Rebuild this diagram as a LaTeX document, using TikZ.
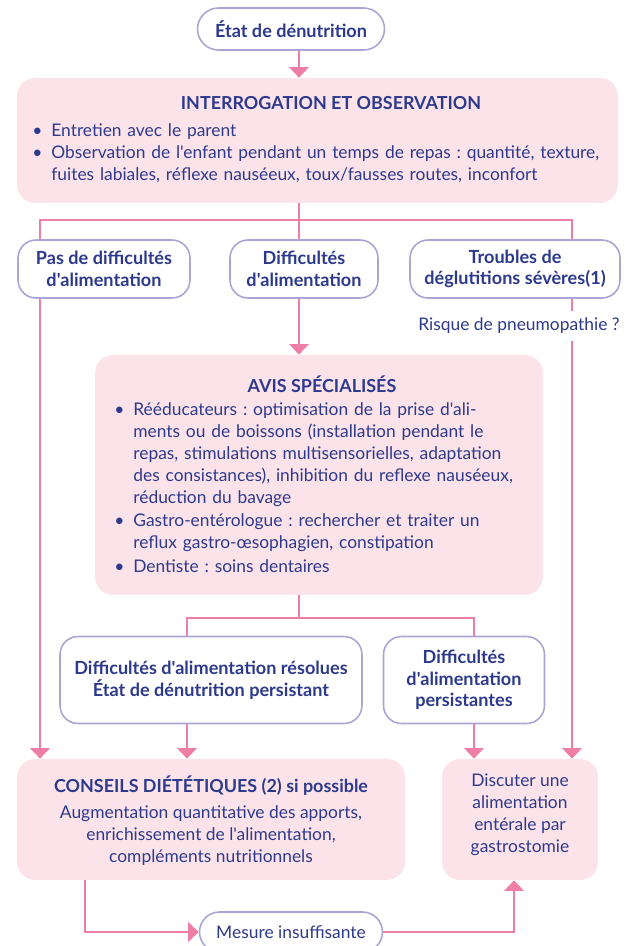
\documentclass[tikz,border=0pt]{standalone}
\usepackage{fontspec}
\setmainfont{Lato}[Ligatures=TeXOff]
\usepackage{enumitem}
\usetikzlibrary{positioning,arrows.meta}

\definecolor{marine}{HTML}{2D3A8C}
\definecolor{rosepale}{HTML}{FCE3EA}
\definecolor{rosevif}{HTML}{EE7EA6}
\definecolor{lavande}{HTML}{A9A5D5}

\frenchspacing
\newcommand{\corps}{\fontsize{9.9}{12.5}\selectfont}
\newcommand{\gras}{\fontsize{10.3}{12.3}\selectfont\bfseries}
\newcommand{\titre}{\fontsize{10.2}{12.5}\selectfont\bfseries}

\tikzset{
  panel/.style={fill=rosepale, rounded corners=0.36cm, inner sep=0pt},
  choix/.style={draw=lavande, line width=0.9pt, fill=white, rounded corners=0.36cm,
    align=center, font=\gras, text=marine, inner sep=0pt},
  pilule/.style={choix, rounded corners=0.42cm},
  texte/.style={font=\corps, text=marine, inner sep=0pt},
  liste/.style={texte, anchor=north west, align=left},
  trait/.style={draw=rosevif, line width=1.4pt},
  fleche/.style={trait, -{Triangle[width=11pt,length=6pt]}},
}

\begin{document}
\begin{tikzpicture}[x=0.02cm, y=-0.02cm]
  \useasboundingbox (0,0) rectangle (626,946);

  \coordinate (axe) at (299,0);
  \coordinate (gauche) at (40,0);
  \coordinate (droite) at (572,0);
  \coordinate (col1) at (187,0);
  \coordinate (col2) at (474,0);
  \coordinate (bas1) at (85,0);
  \coordinate (bas2) at (514,0);
  \coordinate (fourche1) at (299,220);
  \coordinate (fourche2) at (299,618);

  \node (etat) [pilule, minimum width=3.74cm, minimum height=0.84cm] at (291,29) {État de dénutrition};

  \node (interro) [panel, minimum width=12.02cm, minimum height=2.5cm] at (317.5,140.5) {};
  \node (interrotitre) [texte, font=\titre] at (331,103) {INTERROGATION ET OBSERVATION};
  \node (interroliste) [liste, text width=11.6cm] at (31,114) {%
    \begin{itemize}[leftmargin=0.4cm, itemsep=0pt, topsep=0pt, parsep=0pt, partopsep=0pt, label=\textbullet]
      \item Entretien avec le parent
      \item Observation de l'enfant pendant un temps de repas : quantité, texture,\newline
        fuites labiales, réflexe nauséeux, toux/fausses routes, inconfort
    \end{itemize}};

  \node (pasdiff) [choix, minimum width=3.44cm, minimum height=1.16cm] at (104,269) {Pas de difficultés\\d'alimentation};
  \node (diff) [choix, minimum width=2.96cm, minimum height=1.16cm] at (304,269) {Difficultés\\d'alimentation};
  \node (troubles) [choix, minimum width=4.2cm, minimum height=1.16cm] at (515,269) {Troubles de\\déglutitions sévères(1)};
  \node (risque) [texte, inner ysep=4pt] at (519,326) {Risque de pneumopathie ?};

  \node (avis) [panel, minimum width=8.96cm, minimum height=4.8cm] at (319,475) {};
  \node (avistitre) [texte, font=\titre] at (322,384) {AVIS SPÉCIALISÉS};
  \node (avisliste) [liste, text width=8.6cm] at (113,393) {%
    \begin{itemize}[leftmargin=0.4cm, itemsep=1pt, topsep=0pt, parsep=0pt, partopsep=0pt, label=\textbullet]
      \item Rééducateurs : optimisation de la prise d'ali-\newline
        ments ou de boissons (installation pendant le\newline
        repas, stimulations multisensorielles, adaptation\newline
        des consistances), inhibition du reflexe nauséeux,\newline
        réduction du bavage
      \item Gastro-entérologue : rechercher et traiter un\newline
        reflux gastro-œsophagien, constipation
      \item Dentiste : soins dentaires
    \end{itemize}};

  \node (resolu) [choix, minimum width=6.04cm, minimum height=1.74cm] at (211,680) {Difficultés d'alimentation résolues\\État de dénutrition persistant};
  \node (persist) [choix, minimum width=3.22cm, minimum height=1.74cm] at (464,680) {Difficultés\\d'alimentation\\persistantes};

  \node (conseils) [panel, minimum width=7.76cm, minimum height=2.42cm] at (211,819.5) {};
  \node (conseilstitre) [texte, font=\titre] at (211,786) {CONSEILS DIÉTÉTIQUES (2) si possible};
  \node (conseilstexte) [texte, align=center] at (211,836) {Augmentation quantitative des apports,\\enrichissement de l'alimentation,\\compléments nutritionnels};

  \node (discuter) [panel, minimum width=3.12cm, minimum height=2.42cm] at (520,819.5) {};
  \node (discutertexte) [texte, align=center] at (520,815) {Discuter une\\alimentation\\entérale par\\gastrostomie};

  \node (mesure) [pilule, font=\corps, minimum width=3.66cm, minimum height=0.8cm, rounded corners=0.4cm] at (291,932) {Mesure insuffisante};

  \draw[fleche] (etat.south -| axe) -- (interro.north -| axe);
  \draw[trait] (interro.south -| axe) -- (fourche1);
  \draw[trait] (pasdiff.north -| gauche) |- (fourche1) -| (troubles.north -| droite);
  \draw[trait] (fourche1) -- (diff.north -| axe);

  \draw[fleche] (pasdiff.south -| gauche) -- (conseils.north -| gauche);
  \draw[fleche] (diff.south -| axe) -- (avis.north -| axe);
  \draw[trait] (troubles.south -| droite) -- (risque.north -| droite);
  \draw[fleche] (risque.south -| droite) -- (discuter.north -| droite);

  \draw[trait] (avis.south -| axe) -- (fourche2);
  \draw[trait] (resolu.north -| col1) |- (fourche2) -| (persist.north -| col2);
  \draw[fleche] (resolu.south -| col1) -- (conseils.north -| col1);
  \draw[fleche] (persist.south -| col2) -- (discuter.north -| col2);

  \draw[fleche] (conseils.south -| bas1) |- (mesure.west);
  \draw[fleche] (mesure.east) -| (discuter.south -| bas2);
\end{tikzpicture}
\end{document}
